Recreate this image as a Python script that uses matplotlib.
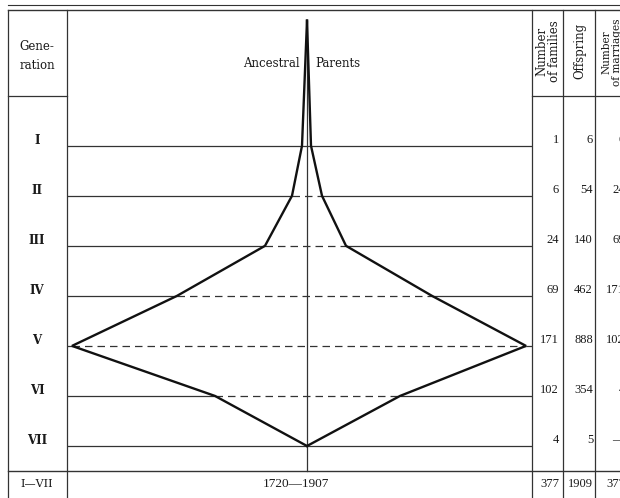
import matplotlib
matplotlib.use('Agg')
import matplotlib.pyplot as plt

# ---------------- data ----------------
generations = ['I', 'II', 'III', 'IV', 'V', 'VI', 'VII']
gen_levels = [1, 2, 3, 4, 5, 6, 7]
families = [1, 6, 24, 69, 171, 102, 4]
offspring = [6, 54, 140, 462, 888, 354, 5]
marriages = ['6', '24', '69', '171', '102', '4', '—']
total_label = 'I—VII'
period_label = '1720—1907'
total_families = 377
total_offspring = 1909
total_marriages = 377
# half-widths of the "Ancestral Parents" diagram (left / right of the axis)
apex_level = -1.5
left_width = [5, 15, 42, 130, 235, 92, 0]
right_width = [4, 15, 39, 125, 219, 93, 0]

# ---------------- layout ----------------
W, H = 620, 498
fig = plt.figure(figsize=(W / 100, H / 100), dpi=100)
fig.patch.set_facecolor('white')

def g(py):
    """pixel row -> generation level"""
    return 1 + (py - 145.75) / 50.04

YTOP, YBOT = g(0), g(H)
ax = fig.add_axes([0, 0, 1, 1])
ax.set_xlim(0, W)
ax.set_ylim(YBOT, YTOP)
ax.axis('off')

X_L, X_GEN, X_DIAG, X_FAM, X_OFF = 8, 67, 532, 563, 595
grid_c = '#333333'
line_c = '#111111'

# top double rule
ax.plot([X_L, W], [g(5), g(5)], color=grid_c, lw=0.8)
ax.plot([X_L, W], [g(10), g(10)], color=grid_c, lw=1.0)
# verticals
for xv in [X_L, X_GEN, X_DIAG, X_FAM, X_OFF]:
    ax.plot([xv, xv], [g(10), YBOT], color=grid_c, lw=0.9)
# header bottom rules
ax.plot([X_L, X_GEN], [0, 0], color=grid_c, lw=0.9)
ax.plot([X_DIAG, W], [0, 0], color=grid_c, lw=0.9)
# bottom rule
ax.plot([X_L, W], [7.5, 7.5], color=grid_c, lw=1.0)

# ---------------- diagram ----------------
axd = fig.add_axes([X_GEN / W, 0, (X_DIAG - X_GEN) / W, 1])
axd.set_xlim(-240, 225)
axd.set_ylim(YBOT, YTOP)
axd.axis('off')
axd.patch.set_alpha(0)

XMIN, XMAX = axd.get_xlim()
axd.plot([0, 0], [apex_level, 7.5], color=grid_c, lw=0.9)
for lvl, lw_, rw_ in zip(gen_levels, left_width, right_width):
    axd.plot([XMIN, -lw_], [lvl, lvl], color=grid_c, lw=0.9, solid_capstyle='butt')
    axd.plot([rw_, XMAX], [lvl, lvl], color=grid_c, lw=0.9, solid_capstyle='butt')
    if lw_ + rw_ > 0:
        axd.plot([-lw_, rw_], [lvl, lvl], color=grid_c, lw=0.9,
                 linestyle=(0, (6, 4)))
axd.plot([0] + [-w for w in left_width], [apex_level] + gen_levels,
         color=line_c, lw=1.7, solid_joinstyle='miter')
axd.plot([0] + right_width, [apex_level] + gen_levels,
         color=line_c, lw=1.7, solid_joinstyle='miter')

axd.text(-7, g(63), 'Ancestral', ha='right', va='center',
         family='DejaVu Serif', fontsize=8.5, color='#1a1a1a')
axd.text(8, g(63), 'Parents', ha='left', va='center',
         family='DejaVu Serif', fontsize=8.5, color='#1a1a1a')

# ---------------- table text ----------------
txt = dict(color='#1a1a1a')
ax.text(37, g(56), 'Gene-\nration', ha='center', va='center',
        family='DejaVu Serif', fontsize=8.5, linespacing=1.6, **txt)
ax.text(548, g(51), 'Number\nof families', rotation=90, ha='center', va='center',
        multialignment='center', family='DejaVu Serif', fontsize=8.5,
        linespacing=0.95, **txt)
ax.text(580, g(51), 'Offspring', rotation=90, ha='center', va='center',
        family='DejaVu Serif', fontsize=8.5, **txt)
ax.text(612, g(52), 'Number\nof marriages', rotation=90, ha='center', va='center',
        multialignment='center', family='DejaVu Serif', fontsize=7.6,
        linespacing=1.0, **txt)

num = dict(family='Liberation Serif', fontsize=9, va='center', ha='right', **txt)
for lvl, gen, f, o, m in zip(gen_levels, generations, families, offspring, marriages):
    y = lvl - 0.11
    ax.text(37, y, gen, ha='center', va='center', family='DejaVu Serif',
            fontsize=8.5, fontweight='bold', **txt)
    ax.text(559, y, str(f), **num)
    ax.text(593, y, str(o), **num)
    ax.text(625, y, m, **num)

yb = g(484)
ax.text(37, yb, total_label, ha='center', va='center', family='DejaVu Serif',
        fontsize=8, **txt)
ax.text(296, yb, period_label, ha='center', va='center',
        family='Liberation Serif', fontsize=9.5, **txt)
ax.text(559, yb, str(total_families), **num)
ax.text(593, yb, str(total_offspring), **num)
ax.text(625, yb, str(total_marriages), **num)

fig.savefig('out.png', dpi=100)
